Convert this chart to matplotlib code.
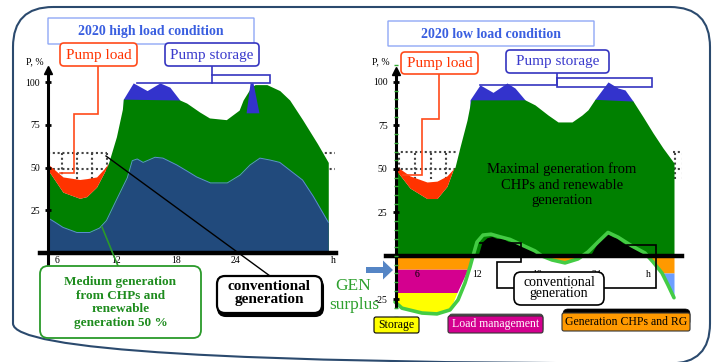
import matplotlib.pyplot as plt
from matplotlib.patches import FancyBboxPatch
from matplotlib.ticker import MultipleLocator

plt.rcParams['font.family'] = ['Liberation Serif', 'DejaVu Serif']

# colours
GREEN = '#008000'
NAVY = '#214a7c'
STOR = '#3333cc'
RED = '#ff3300'
ORANGE = '#ff9900'
MAGENTA = '#d4008f'
YELLOW = '#ffff00'
LBLUE = '#6d9eff'
LIME = '#44cc44'

# ---- 2020 high load condition (left panel), x in hours, y in % ----
hi_conv_h = [5.1, 5.8, 6.6, 8.0, 9.3, 10.3, 11.0, 12.0, 13.1, 13.6, 14.1, 14.7, 15.9, 16.7,
             18.1, 19.4, 20.1, 21.5, 23.2, 24.5, 25.5, 26.5, 27.5, 28.5, 29.5, 30.8, 31.9, 32.9, 33.4]
hi_conv = [20.5, 18, 15, 12, 12, 14.6, 19, 31, 44, 54, 55, 53, 56, 55.5,
           51.5, 47, 44.5, 41, 41, 45.6, 51.5, 55.5, 54.4, 53, 48.5, 42.7, 33, 23, 18]
hi_gen_h = [5.1, 6.6, 8.3, 9.0, 10.0, 10.8, 11.2, 12.0, 12.6, 12.7, 18.4, 19.1, 20.4, 21.4,
            23.1, 24.4, 24.8, 25.6, 26.0, 27.2, 28.5, 29.5, 30.8, 32.3, 33.4]
hi_gen = [48.5, 35.6, 32, 33, 38.6, 47.5, 52.6, 68, 84, 90, 89.5, 87.7, 82.5, 79,
          78, 83.6, 89.5, 97, 98.5, 98.5, 95, 89.5, 78, 64, 53]
hi_pump_h = [5.1, 6.6, 8.3, 9.0, 10.0, 10.8, 11.2]
hi_pump_lo = [48.5, 35.6, 32, 33, 38.6, 47.5, 52.6]
hi_pump_hi = [52, 44.5, 43, 43.5, 44.5, 49.5, 52.6]
hi_stor_h = [12.7, 13.7, 15.1, 16.4, 17.4, 18.4]
hi_stor = [90, 99.5, 95, 99.5, 97, 89.5]
hi_spike_h = [25.1, 25.5, 25.8, 26.4]
hi_spike = [82, 99.5, 99.5, 82]

# ---- 2020 low load condition (right panel) ----
lo_gen_h = [3.9, 5.3, 7.0, 8.0, 9.0, 9.6, 9.8, 10.3, 11.0, 11.4, 16.8, 17.8, 19.1, 20.1,
            21.5, 22.5, 23.1, 23.8, 27.6, 28.6, 29.6, 30.6, 31.7]
lo_gen = [49.4, 39, 33, 33, 40, 49.4, 51, 62.6, 78, 89.7, 89.7, 86.8, 81, 77,
          77, 81, 84, 90, 89, 80, 70.7, 62, 53.4]
lo_pump_h = [3.9, 5.3, 7.0, 8.0, 9.0, 9.6, 9.8]
lo_pump_lo = [49.4, 39, 33, 33, 40, 49.4, 51]
lo_pump_hi = [51.7, 46, 42.5, 43, 46, 49.8, 51]
lo_stor1_h = [11.3, 12.3, 13.6, 15.0, 15.8, 16.8]
lo_stor1 = [89.7, 98.3, 94, 99.4, 96.5, 89.7]
lo_stor2_h = [23.8, 25.1, 26.1, 26.8, 27.6]
lo_stor2 = [90, 100, 96.5, 95.4, 89]
lo_conv_h = [12.1, 12.5, 13.0, 13.5, 14.0, 14.5, 15.2, 15.8, 16.3, 17.0, 17.5, 18.1, 18.5,
             23.3, 23.8, 24.3, 25.1, 25.6, 26.0, 26.6, 27.1, 27.6, 28.6, 29.0]
lo_conv = [0, 8, 10.5, 11.2, 10, 10.5, 8, 8.5, 6, 4.5, 4.8, 2, 0,
           0, 5, 10.3, 12.6, 11, 10.3, 7.5, 6.5, 4.6, 1.7, 0]
lo_surplus_h = [3.8, 4.5, 6.5, 8.0, 9.3, 10.1, 10.8, 11.3, 11.6, 12.0, 12.6, 13.4, 14.3, 15.3,
                16.5, 17.8, 18.5, 19.5, 20.8, 22.1, 23.1, 24.1, 25.1, 26.1, 27.5, 28.8,
                29.6, 30.5, 31.1, 31.7]
lo_surplus = [-26.4, -30, -32.8, -33.3, -31, -25.3, -15.5, -6.3, 0, 8, 12, 12.5, 11, 9.5,
              6.3, 2.9, 0, -2.3, -4, -1.7, 2.3, 8, 13.5, 10.8, 5.7, 1.7,
              -3.4, -9.8, -16.7, -24]
# negative side (storage / load management / generation reduction)
neg_store_h = [3.9, 4.5, 6.5, 8.0, 9.3, 10.0]
neg_store = [-27, -30, -32.8, -33.3, -31, -21]
neg_load_v = [-7.5, -21]
neg_load_x = [11.1, 10.0]
neg_chp_v = [0, -7.5]
neg_chp_x = [11.6, 11.1]
neg_mid_h = [18.5, 19.5, 20.8, 22.1, 22.8]
neg_mid = [0, -2.3, -4, -1.7, 0]
neg_right_h = [28.8, 29.6, 30.5, 31.7]
neg_right = [0, -3.4, -9.8, -9.8]
neg_blue_h = [30.5, 31.1, 31.7]
neg_blue = [-9.8, -16.7, -24]

fig = plt.figure(figsize=(7.15, 3.62), dpi=100, facecolor='white')

# left chart axes: px 40..336, py 60..275
axl = fig.add_axes([40/715, 87/362, 296/715, 215/362])
axl.set_xlim(4.283, 34.18)
axl.set_ylim(-12.87, 112.9)
# right chart axes: px 386..682, py 60..320
axr = fig.add_axes([386/715, 42/362, 296/715, 260/362])
axr.set_xlim(2.9, 32.5)
axr.set_ylim(-36.8, 112.6)

dots = dict(color='#444444', lw=1.5, ls=(0, (1, 1.3)), zorder=0.8)

# ---- left panel drawing ----
axl.hlines([58.5, 49], 5.1, 11.1, **dots)
axl.hlines([58.5, 49], 32.6, 34.1, **dots)
axl.vlines([6.5, 8.0, 9.5, 11.05], 43, 58.5, **dots)
axl.fill_between(hi_stor_h, 80, hi_stor, color=STOR, lw=0, zorder=1)
axl.fill_between(hi_gen_h, 0, hi_gen, color=GREEN, lw=0, zorder=1.1)
axl.fill_between(hi_conv_h, 0, hi_conv, color=NAVY, lw=0, zorder=1.2)
axl.plot(hi_conv_h, hi_conv, color='#5b8fd0', lw=0.7, zorder=1.25)
axl.fill_between(hi_pump_h, hi_pump_lo, hi_pump_hi, color=RED, lw=0, zorder=1.3)
axl.fill_between(hi_spike_h, 82, hi_spike, color=STOR, lw=0, zorder=1.4)

# ---- right panel drawing ----
axr.hlines([59.8, 50], 3.9, 10.0, **dots)
axr.hlines([59.8, 50], 31.6, 32.6, **dots)
axr.vlines([4.2, 5.8, 7.4, 8.9], 44, 59.8, **dots)
axr.vlines([31.8, 32.6], 44, 59.8, **dots)
axr.fill_between(lo_stor1_h, 80, lo_stor1, color=STOR, lw=0, zorder=1)
axr.fill_between(lo_stor2_h, 80, lo_stor2, color=STOR, lw=0, zorder=1)
axr.fill_between(lo_gen_h, 0, lo_gen, color=GREEN, lw=0, zorder=1.1)
axr.fill_between(lo_pump_h, lo_pump_lo, lo_pump_hi, color=RED, lw=0, zorder=1.3)
axr.fill_between(lo_conv_h, 0, lo_conv, color='black', lw=0, zorder=1.4)
axr.fill_between(neg_store_h, -21, neg_store, color=YELLOW, lw=0, zorder=1.2)
axr.fill_betweenx(neg_load_v, 3.9, neg_load_x, color=MAGENTA, lw=0, zorder=1.2)
axr.fill_betweenx(neg_chp_v, 3.9, neg_chp_x, color=ORANGE, lw=0, zorder=1.2)
axr.fill_between(neg_mid_h, 0, neg_mid, color=ORANGE, lw=0, zorder=1.2)
axr.fill_between(neg_right_h, 0, neg_right, color=ORANGE, lw=0, zorder=1.2)
axr.fill_between(neg_blue_h, -9.8, neg_blue, color=LBLUE, lw=0, zorder=1.2)
axr.plot(lo_surplus_h, lo_surplus, color=LIME, lw=2.6, zorder=1.5,
         solid_capstyle='round', solid_joinstyle='round')

# ---- axes styling ----
for ax, x0, ybot, ytop, ticks, hpos, pad in [
        (axl, 5.1, -7, 105, [25, 50, 75, 100], 33.9, 2),
        (axr, 3.9, -29.3, 104, [-25, 25, 50, 75, 100], 29.1, 10)]:
    ax.set_facecolor('none')
    ax.set_axisbelow(False)
    for s in ['top', 'right']:
        ax.spines[s].set_visible(False)
    ax.spines['left'].set_position(('data', x0))
    ax.spines['left'].set_bounds(ybot, ytop)
    ax.spines['left'].set_linewidth(2.2)
    ax.spines['bottom'].set_position(('data', 0))
    ax.spines['bottom'].set_linewidth(3.2)
    ax.plot([x0], [ytop + 2], marker='^', ms=6, color='black', clip_on=False, zorder=3)
    ax.set_yticks(ticks)
    ax.set_yticklabels([str(t) for t in ticks])
    ax.tick_params(axis='y', direction='inout', length=5, width=2, pad=3.5, labelsize=7)
    ax.set_xticks([6, 12, 18, 24, hpos])
    ax.set_xticklabels(['6', '12', '18', '24', 'h'])
    ax.tick_params(axis='x', length=0, pad=pad, labelsize=7)

axr.yaxis.set_minor_locator(MultipleLocator(5))
axr.tick_params(axis='y', which='minor', direction='inout', length=3, width=1, color='#33aa33')

# ---- overlay in pixel coordinates for frames, labels and connectors ----
ov = fig.add_axes([0, 0, 1, 1])
ov.set_xlim(0, 715)
ov.set_ylim(362, 0)
ov.axis('off')
ov.set_zorder(10)
ov.patch.set_alpha(0)


def rbox(x0, y0, x1, y1, ec, fc='white', lw=1.2, r=4, z=2):
    ov.add_patch(FancyBboxPatch((x0, y0), x1 - x0, y1 - y0,
                                boxstyle=f'round,pad=0,rounding_size={r}',
                                ec=ec, fc=fc, lw=lw, zorder=z))


def path(pts, color, lw=1.2):
    ov.plot([p[0] for p in pts], [p[1] for p in pts], color=color, lw=lw,
            solid_joinstyle='miter', zorder=1.5)


# outer frame
rbox(13, 7, 710, 363.5, '#2b4a6e', fc='none', lw=1.5, r=40, z=0.5)

# titles
rbox(48, 18, 254, 44, '#8fa8f5', lw=1, r=0)
ov.text(151, 31.5, '2020 high load condition', ha='center', va='center',
        fontsize=10, fontweight='bold', color='#3a5fe0')
rbox(388, 21, 594, 46, '#8fa8f5', lw=1, r=0)
ov.text(491, 34, '2020 low load condition', ha='center', va='center',
        fontsize=10, fontweight='bold', color='#3a5fe0')

# P, % labels
ov.text(35, 62, 'P, %', ha='center', va='center', fontsize=7)
ov.text(381, 62, 'P, %', ha='center', va='center', fontsize=7)

# pump load boxes and connectors
path([(98, 66), (98, 114), (74, 114), (74, 173), (60, 173)], '#ff4a1a')
rbox(60, 43, 137, 66, '#ff4a1a')
ov.text(98.5, 55, 'Pump load', ha='center', va='center', fontsize=11, color=RED)
path([(439, 74), (439, 119), (422, 119), (422, 175), (403, 175)], '#ff4a1a')
rbox(401, 52, 478, 74, '#ff4a1a')
ov.text(439.5, 63.5, 'Pump load', ha='center', va='center', fontsize=11, color=RED)

# pump storage boxes and connectors
path([(212, 66), (212, 83)], '#3535c0')
path([(137, 83), (270, 83), (270, 75), (212, 75)], '#3535c0')
rbox(165, 43, 259, 66, '#3535c0')
ov.text(212, 55, 'Pump storage', ha='center', va='center', fontsize=11, color='#3a3acc')
path([(480, 85), (557, 85), (557, 73)], '#3535c0')
path([(557, 78), (652, 78), (652, 87), (557, 87), (557, 78)], '#3535c0')
rbox(506, 50, 609, 73, '#3535c0')
ov.text(557.5, 62, 'Pump storage', ha='center', va='center', fontsize=11, color='#3a3acc')

# left: conventional generation
path([(106, 156), (270, 276)], 'black', lw=1)
rbox(218, 279, 323, 316, 'black', fc='black', lw=1.5, r=8, z=1.8)
rbox(217, 276, 322, 313, 'black', lw=1.6, r=8)
ov.text(269.5, 287, 'conventional', ha='center', va='center', fontsize=11, fontweight='bold')
ov.text(269.5, 300, 'generation', ha='center', va='center', fontsize=11, fontweight='bold')

# left: medium generation
path([(102, 227), (118, 266)], '#2a9a2a', lw=1.2)
rbox(40, 266, 201, 338, '#2a9a2a', lw=1.3, r=8)
ov.text(120.5, 302.5, 'Medium generation\nfrom CHPs and\nrenewable\ngeneration 50 %',
        ha='center', va='center', fontsize=9.5, fontweight='bold', color='#1e8c1e',
        linespacing=1.2)

# right: maximal generation text
ov.text(562, 185, 'Maximal generation from\nCHPs and renewable\ngeneration',
        ha='center', va='center', fontsize=10.5, linespacing=1.25)

# right: conventional generation connectors and box
path([(480, 243), (521, 243), (521, 262), (497, 262), (497, 288), (514, 288)], 'black')
path([(603, 288), (656, 288), (656, 245), (627, 245)], 'black')
rbox(514, 272, 604, 305, 'black', lw=1.2, r=7)
ov.text(559, 282, 'conventional', ha='center', va='center', fontsize=10)
ov.text(559, 294, 'generation', ha='center', va='center', fontsize=10)

# GEN surplus and arrow
ov.text(335, 286, 'GEN', ha='left', va='center', fontsize=12.5, color='#2ea02e')
ov.text(329, 305, 'surplus', ha='left', va='center', fontsize=12.5, color='#2ea02e')
ov.arrow(366, 270, 27, 0, width=6, head_width=19, head_length=10,
         length_includes_head=True, color='#5585c5', lw=0, zorder=3)

# legend boxes
rbox(374, 317, 419, 333, 'black', fc=YELLOW, lw=0.8, r=2)
ov.text(396.5, 325, 'Storage', ha='center', va='center', fontsize=8.5)
rbox(449, 314, 543, 332, '#333333', fc='#555555', lw=0.5, r=3, z=1.8)
rbox(448, 316, 543, 333, '#333333', fc=MAGENTA, lw=0.8, r=2)
ov.text(495.5, 324.5, 'Load management', ha='center', va='center', fontsize=8.5, color='white')
rbox(563, 309, 690, 326, 'black', fc='black', lw=0.5, r=5, z=1.8)
rbox(562, 313, 690, 331, '#333333', fc=ORANGE, lw=0.8, r=2)
ov.text(626, 322, 'Generation CHPs and RG', ha='center', va='center', fontsize=8.5)

fig.savefig('out.png', dpi=100, facecolor='white')
